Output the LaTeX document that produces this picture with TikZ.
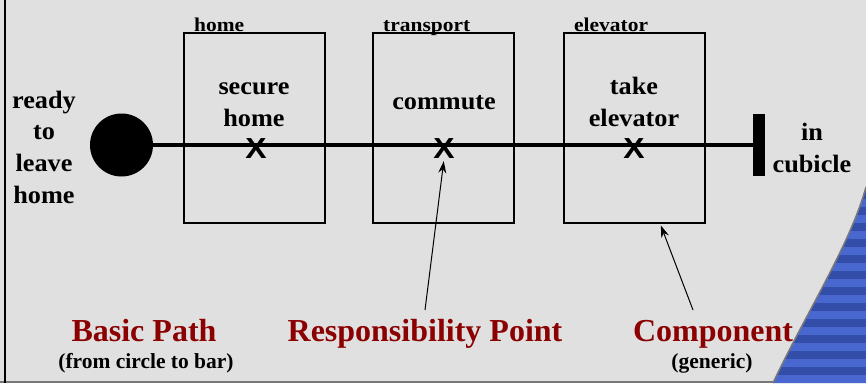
\documentclass[tikz,border=0pt]{standalone}
\usepackage{fontspec}
\setmainfont{Liberation Serif}
\newfontfamily\wideserif{Liberation Serif}[FakeStretch=1.05]
\newfontfamily\labserif{Liberation Serif}[FakeStretch=1.1]
\newfontfamily\xsans{Liberation Sans}[FakeStretch=1.1]
\usetikzlibrary{arrows.meta}
\definecolor{bg}{RGB}{224,224,224}
\definecolor{darkred}{RGB}{139,0,0}
\definecolor{stripelight}{RGB}{72,104,208}
\definecolor{stripedark}{RGB}{50,78,168}
\definecolor{edgegray}{RGB}{120,120,120}
\begin{document}
\begin{tikzpicture}[x=1pt,y=-1pt,
  comp/.style={draw, line width=1.2pt, minimum width=141pt, minimum height=190pt, inner sep=0pt},
  main/.style={font=\wideserif\bfseries\fontsize{25}{31.6}\selectfont, align=center, inner sep=0pt},
  lab/.style={font=\labserif\bfseries\fontsize{19.5}{20}\selectfont, inner sep=0pt},
  xmark/.style={font=\xsans\bfseries\fontsize{29}{29}\selectfont, inner sep=0pt},
  title/.style={font=\bfseries\fontsize{32}{34}\selectfont, text=darkred, inner sep=0pt},
  sub/.style={font=\bfseries\fontsize{21.5}{22}\selectfont, inner sep=0pt},
  pointer/.style={line width=1pt, -{Stealth[length=12pt,width=8pt]}, shorten >=2pt}
]
\useasboundingbox (0,0) rectangle (866,383);
\fill[bg] (0,0) rectangle (866,383);
\draw[edgegray, line width=2pt] (0,382) -- (866,382);
\draw[black, line width=2pt] (5,0) -- (5,383);
% blue corner
\begin{scope}
  \clip (866,187) .. controls (850,245) and (805,315) .. (773,383) -- (866,383) -- cycle;
  \fill[stripelight] (760,180) rectangle (866,383);
  \foreach \k in {0,...,12} {
    \fill[stripedark] (760,{191+16*\k}) rectangle (866,{199+16*\k});
  }
\end{scope}
\draw[edgegray, line width=1.5pt] (866,187) .. controls (850,245) and (805,315) .. (773,383);
% components
\node[comp] (b1) at (254.5,128) {};
\node[comp] (b2) at (443.5,128) {};
\node[comp] (b3) at (634.5,128) {};
\node[lab, anchor=base west] (l1) at (194,31) {home};
\node[lab, anchor=base west] (l2) at (383,31) {transport};
\node[lab, anchor=base west] (l3) at (574,31) {elevator};
% start and end
\node[circle, fill=black, minimum size=63pt, inner sep=0pt] (start) at (121.5,145) {};
\node[fill=black, minimum width=12pt, minimum height=62pt, inner sep=0pt] (bar) at (759,145) {};
\draw[line width=4pt] (start) -- (bar);
\node[main, anchor=base] (startlabel) at (44,203) {ready\\to\\leave\\home};
\node[main, anchor=base] (endlabel) at (812,172) {in\\cubicle};
% responsibilities
\node[main, anchor=base] (r1) at (254,126) {secure\\home};
\node[main, anchor=base] (r2) at (444,109) {commute};
\node[main, anchor=base] (r3) at (634,126) {take\\elevator};
\node[xmark] (x1) at (256,149) {X};
\node[xmark] (x2) at (444,149) {X};
\node[xmark] (x3) at (634,149) {X};
% legend
\node[title, anchor=base] (t1) at (144,341) {Basic Path};
\node[sub, anchor=base] (s1) at (146,368) {(from circle to bar)};
\node[title, anchor=base] (t2) at (425,341) {Responsibility Point};
\node[title, anchor=base] (t3) at (713,341) {Component};
\node[sub, anchor=base] (s3) at (712,368) {(generic)};
\coordinate (p2) at (425,310);
\coordinate (p3) at (693,310);
\draw[pointer] (p2) -- (x2.south);
\draw[pointer] (p3) -- (b3.-75.5);
\end{tikzpicture}
\end{document}
